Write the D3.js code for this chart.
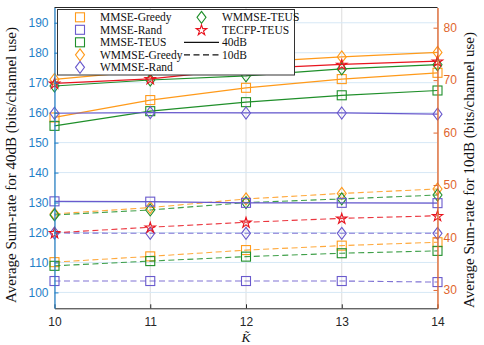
<!DOCTYPE html>
<html>
<head>
<meta charset="utf-8">
<script src="https://cdn.jsdelivr.net/npm/d3@7"></script>
<style>
  html, body { margin: 0; padding: 0; background: #fff; }
  svg { display: block; }
</style>
</head>
<body>
<svg id="chart" width="484" height="345"></svg>
<script>
// Number of users K~ on the horizontal axis
const kValues = [10, 11, 12, 13, 14];

// Sum-rate at 40 dB (left axis)
const mmseGreedy40  = [158.4, 164.2, 168.3, 171.2, 173.3];
const mmseRand40    = [130.4, 130.3, 129.9, 129.9, 129.8];
const mmseTeus40    = [155.6, 160.5, 163.5, 165.8, 167.4];
const wmmseGreedy40 = [171.1, 174.0, 176.8, 178.6, 180.1];
const wmmseRand40   = [159.8, 160.0, 159.9, 159.9, 159.5];
const wmmseTeus40   = [168.9, 170.9, 172.3, 174.6, 176.0];
const tecfpTeus40   = [169.8, 171.3, 174.6, 176.1, 177.2];

// Sum-rate at 10 dB (right axis)
const mmseGreedy10  = [35.3, 36.4, 37.6, 38.45, 39.1];
const mmseRand10    = [31.7, 31.7, 31.7, 31.7, 31.5];
const mmseTeus10    = [34.6, 35.5, 36.35, 37.0, 37.45];
const wmmseGreedy10 = [44.5, 45.7, 47.35, 48.4, 49.25];
const wmmseRand10   = [40.85, 40.8, 40.8, 40.8, 40.8];
const wmmseTeus10   = [44.3, 45.25, 46.65, 47.35, 48.1];
const tecfpTeus10   = [40.9, 41.95, 42.9, 43.65, 44.15];

// Tick labels
const leftTicks  = [100, 110, 120, 130, 140, 150, 160, 170, 180, 190];
const rightTicks = [30, 40, 50, 60, 70, 80];

const ORANGE = "#ff9a1a", PURPLE = "#6a5acd", GREEN = "#1f8f2a", RED = "#e8141e";
const LEFT_C = "#1f7fc8", RIGHT_C = "#e0662e";

const schemes = [
  { name: "MMSE-Greedy",  color: ORANGE, marker: "square",  v40: mmseGreedy40,  v10: mmseGreedy10 },
  { name: "MMSE-Rand",    color: PURPLE, marker: "square",  v40: mmseRand40,    v10: mmseRand10 },
  { name: "MMSE-TEUS",    color: GREEN,  marker: "square",  v40: mmseTeus40,    v10: mmseTeus10 },
  { name: "WMMSE-Greedy", color: ORANGE, marker: "diamond", v40: wmmseGreedy40, v10: wmmseGreedy10 },
  { name: "WMMSE-Rand",   color: PURPLE, marker: "diamond", v40: wmmseRand40,   v10: wmmseRand10 },
  { name: "WMMSE-TEUS",   color: GREEN,  marker: "diamond", v40: wmmseTeus40,   v10: wmmseTeus10 },
  { name: "TECFP-TEUS",   color: RED,    marker: "star",    v40: tecfpTeus40,   v10: tecfpTeus10 }
];

const svg = d3.select("#chart");
const L = 54.5, R = 437.5, T = 7.5, B = 308.3;

const x = d3.scaleLinear().domain([10, 14]).range([L, R]);
const yL = d3.scaleLinear().domain([94.7, 195.1]).range([B, T]);
const yR = d3.scaleLinear().domain([26.5, 83.85]).range([B, T]);

// Grid
const grid = svg.append("g");
grid.selectAll("line.v").data(kValues).join("line")
  .attr("x1", d => x(d)).attr("x2", d => x(d)).attr("y1", T).attr("y2", B)
  .attr("stroke", "#dcdcdc").attr("stroke-width", 1);
grid.selectAll("line.h").data(leftTicks).join("line")
  .attr("x1", L).attr("x2", R).attr("y1", d => yL(d)).attr("y2", d => yL(d))
  .attr("stroke", "#d6e8f6").attr("stroke-width", 1);

// Marker shapes
const starSym = d3.symbol().type(d3.symbolStar).size(34);
function drawMarker(g, type, cx, cy, color) {
  if (type === "square") {
    g.append("rect").attr("x", cx - 4.5).attr("y", cy - 4.5).attr("width", 9).attr("height", 9)
      .attr("fill", "none").attr("stroke", color).attr("stroke-width", 1.1);
  } else if (type === "diamond") {
    g.append("path").attr("d", `M${cx},${cy - 6}L${cx + 4.5},${cy}L${cx},${cy + 6}L${cx - 4.5},${cy}Z`)
      .attr("fill", "none").attr("stroke", color).attr("stroke-width", 1.1);
  } else {
    g.append("path").attr("d", starSym()).attr("transform", `translate(${cx},${cy + 0.5})`)
      .attr("fill", "none").attr("stroke", color).attr("stroke-width", 1.1);
  }
}

const plot = svg.append("g");
function drawSeries(values, yScale, color, marker, dashed) {
  const line = d3.line().x((d, i) => x(kValues[i])).y(d => yScale(d));
  plot.append("path").datum(values).attr("d", line)
    .attr("fill", "none").attr("stroke", color).attr("stroke-width", dashed ? 1.1 : 1.2)
    .attr("stroke-dasharray", dashed ? "6,3.5" : null)
    .attr("opacity", dashed ? 0.85 : 1);
  values.forEach((v, i) => drawMarker(plot, marker, x(kValues[i]), yScale(v), color));
}
schemes.forEach(s => drawSeries(s.v10, yR, s.color, s.marker, true));
schemes.forEach(s => drawSeries(s.v40, yL, s.color, s.marker, false));

// Axes
const tickFont = "Liberation Sans, Arial, sans-serif";
const xAxis = svg.append("g").attr("transform", `translate(0,${B})`)
  .call(d3.axisBottom(x).tickValues(kValues).tickFormat(d3.format("d")).tickSizeInner(-4).tickSizeOuter(0).tickPadding(9));
xAxis.select(".domain").attr("stroke", "#262626");
xAxis.selectAll(".tick line").attr("stroke", "#262626");
xAxis.selectAll("text").attr("font-family", tickFont).attr("font-size", 12).attr("fill", "#262626");

const lAxis = svg.append("g").attr("transform", `translate(${L},0)`)
  .call(d3.axisLeft(yL).tickValues(leftTicks).tickSizeInner(-4).tickSizeOuter(0).tickPadding(6));
lAxis.select(".domain").attr("stroke", LEFT_C).attr("stroke-width", 1.2);
lAxis.selectAll(".tick line").attr("stroke", LEFT_C);
lAxis.selectAll("text").attr("font-family", tickFont).attr("font-size", 12).attr("fill", LEFT_C);

const rAxis = svg.append("g").attr("transform", `translate(${R},0)`)
  .call(d3.axisRight(yR).tickValues(rightTicks).tickSizeInner(-4).tickSizeOuter(0).tickPadding(6));
rAxis.select(".domain").attr("stroke", RIGHT_C).attr("stroke-width", 1.6).attr("opacity", 0.85);
rAxis.selectAll(".tick line").attr("stroke", RIGHT_C);
rAxis.selectAll("text").attr("font-family", tickFont).attr("font-size", 12).attr("fill", RIGHT_C);

// Top frame edge
svg.append("line").attr("x1", L).attr("x2", R).attr("y1", T).attr("y2", T)
  .attr("stroke", "#262626").attr("stroke-width", 1);

// Axis titles
const serif = "Liberation Serif, Times New Roman, serif";
svg.append("text").attr("transform", `translate(16,165) rotate(-90)`)
  .attr("text-anchor", "middle").attr("font-family", serif).attr("font-size", 15).attr("fill", "#111")
  .text("Average Sum-rate for 40dB (bits/channel use)");
svg.append("text").attr("transform", `translate(474,170) rotate(-90)`)
  .attr("text-anchor", "middle").attr("font-family", serif).attr("font-size", 15).attr("fill", "#111")
  .text("Average Sum-rate for 10dB (bits/channel use)");
svg.append("text").attr("x", x(12)).attr("y", 342)
  .attr("text-anchor", "middle").attr("font-family", serif).attr("font-style", "italic")
  .attr("font-size", 13.5).attr("fill", "#111").text("K\u0303");

// Legend
const lg = svg.append("g");
lg.append("rect").attr("x", 57.5).attr("y", 9.5).attr("width", 237).attr("height", 65.5)
  .attr("fill", "#fff").attr("stroke", "#333").attr("stroke-width", 1);
const rowY = [17.3, 29.8, 42.3, 54.8, 67.3];
const leftCol = schemes.slice(0, 5), rightCol = schemes.slice(5);
const lgFont = { family: serif, size: 11.5 };
leftCol.forEach((s, i) => {
  drawMarker(lg, s.marker, 80, rowY[i], s.color);
  lg.append("text").attr("x", 100).attr("y", rowY[i] + 4).attr("font-family", lgFont.family)
    .attr("font-size", lgFont.size).attr("fill", "#111").text(s.name);
});
rightCol.forEach((s, i) => {
  drawMarker(lg, s.marker, 201.5, rowY[i], s.color);
  lg.append("text").attr("x", 222).attr("y", rowY[i] + 4).attr("font-family", lgFont.family)
    .attr("font-size", lgFont.size).attr("fill", "#111").text(s.name);
});
[["40dB", null], ["10dB", "6,3.5"]].forEach(([label, dash], j) => {
  const yy = rowY[2 + j];
  lg.append("line").attr("x1", 184).attr("x2", 219).attr("y1", yy).attr("y2", yy)
    .attr("stroke", "#111").attr("stroke-width", 1.2).attr("stroke-dasharray", dash);
  lg.append("text").attr("x", 222).attr("y", yy + 4).attr("font-family", lgFont.family)
    .attr("font-size", lgFont.size).attr("fill", "#111").text(label);
});
</script>
</body>
</html>
